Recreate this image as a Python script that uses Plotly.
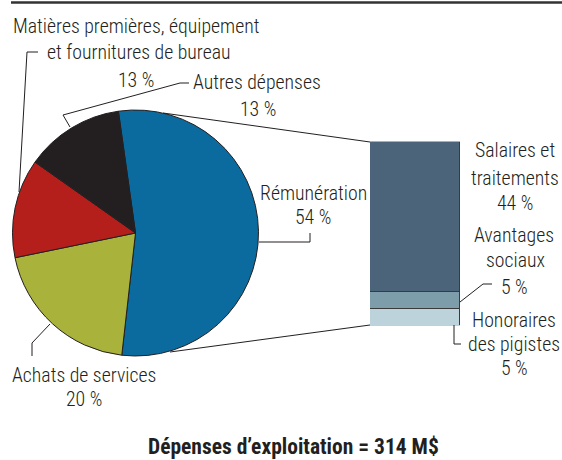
import plotly.graph_objects as go

# ---- data ----
pie_labels = ["Rémunération", "Achats de services",
              "Matières premières, équipement et fournitures de bureau", "Autres dépenses"]
pie_values = [54, 20, 13, 13]
pie_colors = ["#0b6b9f", "#a9b23b", "#b41f1b", "#231f20"]

bar_labels = ["Honoraires des pigistes", "Avantages sociaux", "Salaires et traitements"]
bar_values = [5, 5, 44]
bar_colors = ["#bcd3dc", "#7e9dab", "#4b6479"]

title_text = "Dépenses d’exploitation = 314 M$"

W, H = 562, 460
FONT = "Roboto Condensed Light, Roboto Condensed, Arial Narrow, sans-serif"
BFONT = "Roboto Condensed, Arial Narrow, sans-serif"
TXT = "#231f20"


def px(x):
    return x / W


def py(y):
    return 1 - y / H


fig = go.Figure()

fig.add_trace(go.Pie(
    labels=pie_labels, values=pie_values, sort=False, direction="clockwise",
    rotation=-8, marker=dict(colors=pie_colors, line=dict(color="#231f20", width=1)),
    textinfo="none", hoverinfo="label+percent", showlegend=False,
    domain=dict(x=[px(12), px(259)], y=[py(356), py(110)]),
))

for lab, val, col in zip(bar_labels, bar_values, bar_colors):
    fig.add_trace(go.Bar(
        x=[0], y=[val], name=lab, width=1,
        marker=dict(color=col, line=dict(color="#3a3a3a", width=1)),
        showlegend=False, xaxis="x", yaxis="y",
    ))

shapes = []


def seg(pts, w=1, color="#231f20"):
    path = "M " + " L ".join(f"{px(x)},{py(y)}" for x, y in pts)
    shapes.append(dict(type="path", path=path, xref="paper", yref="paper",
                       line=dict(color=color, width=w), layer="above"))


# top rule
shapes.append(dict(type="line", xref="paper", yref="paper", x0=px(11), x1=px(562),
                   y0=py(2.5), y1=py(2.5), line=dict(color="#333333", width=2.5)))
# connectors pie -> bar
seg([(163, 113), (370, 142)])
seg([(170, 352), (370, 325)])
# leaders
seg([(38, 52), (27, 52), (19, 192)])
seg([(189, 83), (180, 83), (63, 115), (70, 127)])
seg([(259, 242), (310, 242), (310, 233)])
seg([(50, 324), (32, 343), (32, 356)])
seg([(460, 302), (483, 284), (492, 284)])
seg([(454, 325), (454, 344), (461, 344)])

annotations = []


def txt(s, x, y, size=19.8, bold=False):
    annotations.append(dict(text=f"<b>{s}</b>" if bold else s, x=px(x), y=py(y),
                            xref="paper", yref="paper", xanchor="center", yanchor="middle",
                            showarrow=False, borderpad=0,
                            font=dict(family=BFONT if bold else FONT, size=size, color=TXT)))


txt("Matières premières, équipement", 136, 26)
txt("et fournitures de bureau", 139, 52)
txt("13 %", 136, 80)
txt("Autres dépenses", 257, 83)
txt("13 %", 258, 110)
txt("Rémunération", 313, 193)
txt("54 %", 313, 218)
txt("Achats de services", 84, 375)
txt("20 %", 84, 399)
txt("Salaires et", 515, 150)
txt("traitements", 515, 178)
txt("44 %", 515, 203)
txt("Avantages", 514, 235)
txt("sociaux", 515, 260)
txt("5 %", 514, 287)
txt("Honoraires", 514, 320)
txt("des pigistes", 514, 344)
txt("5 %", 514, 368)
txt(title_text, 293, 446.5, size=21.5, bold=True)

fig.update_layout(
    width=W, height=H, margin=dict(l=0, r=0, t=0, b=0),
    paper_bgcolor="white", plot_bgcolor="rgba(0,0,0,0)",
    barmode="stack", bargap=0,
    xaxis=dict(domain=[px(370), px(460)], range=[-0.5, 0.5], visible=False, fixedrange=True),
    yaxis=dict(domain=[py(325.3), py(141.7)], range=[0, 54], visible=False, fixedrange=True),
    shapes=shapes, annotations=annotations,
)

fig.write_html("out.html", config={"displayModeBar": False},
               post_script="document.body.style.margin='0';")
